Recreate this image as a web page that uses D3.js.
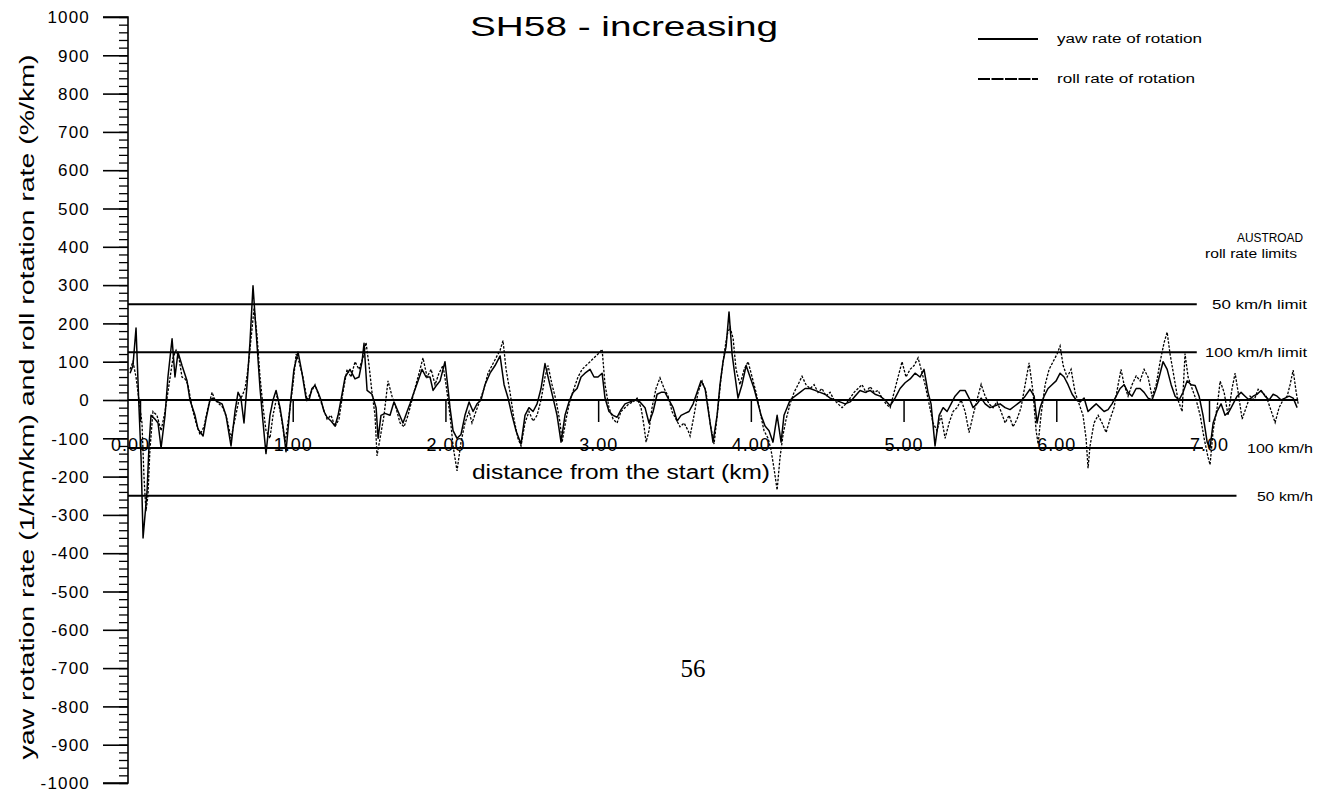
<!DOCTYPE html>
<html>
<head>
<meta charset="utf-8">
<script src="https://cdn.jsdelivr.net/npm/d3@7"></script>
<style>
  html, body { margin: 0; padding: 0; background: #fff; }
  svg { display: block; }
  text { font-family: "Liberation Sans", Arial, Helvetica, sans-serif; fill: #000; }
</style>
</head>
<body>
<svg id="chart" width="1326" height="794"></svg>
<script>
// ---- data -------------------------------------------------------------
const chartTitle = "SH58 - increasing";
const xTickValues = [0, 1, 2, 3, 4, 5, 6, 7];
const xTickLabels = ["0.00", "1.00", "2.00", "3.00", "4.00", "5.00", "6.00", "7.00"];
const yTickValues = d3.range(-1000, 1001, 100);
const seriesNames = ["yaw rate of rotation", "roll rate of rotation"];

// AUSTROAD roll rate limits (%/km) and their labels
const limitValues = [250, 125, -125, -250];
const limitLabels = ["50 km/h limit", "100 km/h limit", "100 km/h", "50 km/h"];

// yaw rotation rate (1/km/km) against distance (km)
const yawKm = [-0.065,-0.046,-0.026,-0.007,0.007,0.020,0.033,0.046,0.059,0.072,0.098,0.118,0.138,0.164,0.183,0.210,0.229,0.249,0.275,0.308,0.327,0.360,0.380,0.413,0.432,0.458,0.478,0.511,0.537,0.563,0.596,0.622,0.642,0.661,0.681,0.701,0.720,0.740,0.760,0.786,0.806,0.825,0.851,0.871,0.891,0.917,0.937,0.956,0.982,1.008,1.035,1.061,1.087,1.107,1.126,1.146,1.166,1.185,1.205,1.225,1.251,1.277,1.297,1.316,1.343,1.375,1.408,1.434,1.454,1.467,1.487,1.519,1.546,1.559,1.578,1.604,1.637,1.663,1.690,1.722,1.749,1.768,1.794,1.821,1.847,1.873,1.899,1.919,1.945,1.965,1.997,2.017,2.030,2.050,2.076,2.102,2.128,2.155,2.181,2.207,2.233,2.259,2.292,2.325,2.358,2.384,2.410,2.436,2.462,2.495,2.521,2.547,2.574,2.600,2.626,2.652,2.678,2.705,2.731,2.757,2.783,2.809,2.836,2.862,2.888,2.914,2.947,2.973,2.999,3.026,3.045,3.071,3.098,3.124,3.150,3.176,3.209,3.242,3.274,3.307,3.333,3.360,3.386,3.412,3.438,3.464,3.491,3.517,3.543,3.569,3.595,3.622,3.648,3.674,3.700,3.726,3.752,3.779,3.798,3.818,3.838,3.857,3.877,3.897,3.916,3.942,3.969,3.995,4.021,4.041,4.067,4.093,4.119,4.145,4.172,4.198,4.217,4.237,4.257,4.289,4.322,4.355,4.388,4.420,4.453,4.486,4.519,4.551,4.584,4.617,4.650,4.682,4.715,4.748,4.781,4.813,4.846,4.879,4.912,4.944,4.977,5.010,5.043,5.075,5.108,5.134,5.160,5.180,5.206,5.233,5.259,5.285,5.311,5.337,5.370,5.403,5.429,5.455,5.481,5.508,5.534,5.566,5.599,5.632,5.665,5.697,5.730,5.763,5.796,5.828,5.855,5.874,5.894,5.920,5.946,5.972,5.999,6.025,6.051,6.077,6.104,6.130,6.156,6.182,6.208,6.234,6.261,6.287,6.313,6.339,6.365,6.392,6.418,6.444,6.470,6.496,6.523,6.549,6.575,6.601,6.627,6.654,6.680,6.699,6.726,6.752,6.778,6.804,6.830,6.857,6.883,6.909,6.935,6.961,6.988,7.007,7.027,7.053,7.079,7.105,7.132,7.158,7.184,7.210,7.236,7.263,7.289,7.315,7.341,7.367,7.394,7.420,7.446,7.472,7.498,7.525,7.551,7.577];
const yawRate = [70,90,188,-16,-150,-360,-300,-240,-120,-40,-50,-60,-125,-40,60,160,60,125,90,50,0,-40,-76,-94,-50,0,5,-5,-10,-40,-120,-30,20,5,-60,40,150,298,180,30,-60,-140,-40,0,25,-20,-70,-135,-20,80,125,70,5,0,30,38,20,0,-30,-45,-55,-68,-40,0,60,80,55,60,100,148,25,15,-20,-100,-40,-35,-40,-5,-30,-60,-30,-10,20,50,80,60,60,25,40,50,100,30,-20,-80,-100,-90,-40,-5,-30,-10,0,40,70,90,115,40,5,-40,-80,-115,-40,-20,-30,-10,30,95,50,5,-40,-110,-40,-5,20,30,60,70,80,60,60,70,5,-30,-40,-45,-25,-10,-5,0,-5,-20,-60,-30,15,20,20,0,-20,-55,-40,-35,-30,-10,20,50,30,-40,-110,-40,40,100,140,230,120,60,5,40,90,60,30,0,-40,-68,-80,-110,-40,-110,-40,-20,0,10,20,30,30,25,20,15,5,0,-5,-10,-5,10,25,20,25,15,10,0,-15,5,30,45,55,70,60,80,20,-10,-120,-40,-20,-30,-10,10,25,25,5,-20,-10,5,-10,-20,-15,-10,-20,-25,-15,-5,10,28,10,-60,-20,10,30,40,50,70,60,40,15,0,-5,5,-30,-20,-10,-20,-30,-25,-10,10,30,40,20,10,30,30,20,5,0,30,70,100,80,40,10,0,20,50,40,38,10,-40,-110,-125,-60,-30,-10,-40,-30,-10,10,20,10,0,10,15,25,10,0,15,10,0,5,10,5,-20];

// roll rotation rate (%/km) against distance (km)
const rollKm = [-0.065,-0.046,-0.026,-0.007,0.013,0.026,0.039,0.052,0.065,0.085,0.111,0.138,0.164,0.190,0.216,0.236,0.255,0.275,0.295,0.314,0.341,0.367,0.393,0.419,0.445,0.472,0.491,0.517,0.544,0.570,0.596,0.622,0.648,0.668,0.688,0.707,0.727,0.747,0.766,0.786,0.806,0.825,0.851,0.871,0.897,0.923,0.950,0.976,1.002,1.022,1.041,1.067,1.094,1.120,1.146,1.172,1.198,1.225,1.251,1.277,1.303,1.329,1.356,1.382,1.408,1.434,1.460,1.480,1.500,1.519,1.539,1.552,1.572,1.598,1.624,1.650,1.676,1.703,1.729,1.755,1.781,1.807,1.834,1.853,1.880,1.906,1.932,1.958,1.984,2.004,2.030,2.050,2.076,2.102,2.128,2.155,2.174,2.200,2.227,2.253,2.279,2.305,2.331,2.358,2.377,2.397,2.423,2.449,2.475,2.495,2.521,2.547,2.574,2.600,2.626,2.652,2.672,2.698,2.724,2.751,2.764,2.790,2.816,2.842,2.868,2.895,2.921,2.947,2.973,2.999,3.026,3.045,3.071,3.098,3.124,3.150,3.176,3.202,3.229,3.255,3.281,3.301,3.314,3.333,3.353,3.379,3.405,3.432,3.458,3.484,3.510,3.536,3.563,3.589,3.602,3.628,3.654,3.681,3.707,3.733,3.759,3.785,3.805,3.825,3.844,3.864,3.884,3.903,3.929,3.956,3.982,4.008,4.034,4.060,4.086,4.113,4.132,4.152,4.172,4.191,4.211,4.231,4.257,4.283,4.309,4.335,4.361,4.388,4.414,4.440,4.466,4.492,4.519,4.545,4.571,4.597,4.623,4.650,4.676,4.702,4.728,4.754,4.781,4.807,4.833,4.859,4.885,4.912,4.938,4.964,4.990,5.016,5.043,5.069,5.095,5.115,5.141,5.167,5.193,5.219,5.246,5.272,5.298,5.324,5.350,5.377,5.403,5.429,5.455,5.481,5.508,5.534,5.560,5.586,5.612,5.638,5.665,5.691,5.717,5.743,5.769,5.796,5.822,5.848,5.868,5.881,5.900,5.927,5.953,5.979,6.005,6.025,6.045,6.071,6.097,6.123,6.149,6.175,6.195,6.208,6.221,6.247,6.274,6.300,6.326,6.352,6.378,6.405,6.424,6.444,6.470,6.496,6.523,6.549,6.575,6.601,6.627,6.654,6.680,6.706,6.726,6.745,6.771,6.797,6.824,6.843,6.863,6.889,6.916,6.942,6.968,6.994,7.007,7.027,7.053,7.073,7.099,7.125,7.151,7.171,7.191,7.217,7.243,7.269,7.296,7.322,7.348,7.374,7.400,7.433,7.459,7.485,7.512,7.531,7.551,7.571,7.584];
const rollRate = [80,100,60,0,-60,-200,-290,-250,-130,-30,-40,-80,-30,40,110,130,110,60,55,40,-20,-60,-90,-70,-20,20,0,-10,-20,-50,-100,-50,0,10,30,80,160,240,170,60,-20,-80,-100,-40,10,-40,-110,-40,40,120,100,60,0,20,40,10,-20,-50,-40,-70,-50,20,80,60,100,80,110,150,90,20,-40,-146,-100,-40,50,10,-20,-60,-70,-40,0,40,80,110,60,80,40,70,90,40,-40,-120,-185,-110,-60,-30,-60,-30,0,30,70,90,110,130,155,80,20,-50,-100,-120,-60,-30,-55,-40,0,60,90,40,0,-60,-110,-50,0,30,60,80,90,100,110,120,132,40,-20,-50,-60,-30,-20,-10,-5,5,-20,-70,-110,-80,-20,30,58,30,10,-30,-50,-70,-60,-80,-94,-40,20,49,20,-60,-115,-20,60,120,170,190,160,80,40,80,100,60,20,-30,-80,-100,-130,-180,-235,-150,-90,-50,-10,20,40,62,40,30,40,20,30,10,20,0,-10,-20,-10,5,20,30,40,20,35,20,25,5,-10,-20,20,60,100,60,80,90,110,80,40,-10,-60,-80,-40,-100,-60,-30,-20,0,-30,-85,-40,0,41,10,-10,-20,-5,-30,-60,-40,-70,-50,-20,40,97,20,-80,-115,-40,40,80,100,120,141,90,60,80,20,-10,-40,-100,-178,-120,-60,-40,-60,-85,-50,-20,40,80,40,10,40,63,50,80,60,10,40,100,150,177,120,60,0,-30,121,60,30,0,-40,-100,-150,-169,-80,-20,49,20,-40,30,70,20,-50,-20,10,0,28,20,10,-20,-59,-20,0,10,40,78,20,-10];

// ---- layout -----------------------------------------------------------
const svg = d3.select("#chart");
const x = d3.scaleLinear().domain([0, 7]).range([140, 1209]);
const y = d3.scaleLinear().domain([-1000, 1000]).range([783, 17]);
const axisX = 128;
const dataEndKm = rollKm[rollKm.length - 1];
// where each limit line stops (km), leaving room for its label
const limitLineEndKm = [6.92, 6.92, 6.96, 7.18];
const limitLabelPos = [
  { x: 1212, dy: 5, width: 95 },
  { x: 1205, dy: 5, width: 102 },
  { x: 1247, dy: 5, width: 66 },
  { x: 1257, dy: 5, width: 56 }
];

// y axis: major ticks every 100, minor every 20
const yMajor = d3.axisLeft(y).tickValues(yTickValues).tickSize(25).tickPadding(13)
  .tickFormat(d => String(d));
const yMinor = d3.axisLeft(y).tickValues(d3.range(-1000, 1001, 20)).tickSize(9).tickFormat("");

const gMinor = svg.append("g").attr("transform", `translate(${axisX},0)`).call(yMinor);
gMinor.select(".domain").remove();
gMinor.selectAll("line").attr("stroke", "#000").attr("stroke-width", 1.3);

const gY = svg.append("g").attr("transform", `translate(${axisX},0)`).call(yMajor);
gY.select(".domain").attr("stroke", "#000").attr("stroke-width", 1.6)
  .attr("d", `M-25,${y(1000)}H0V${y(-1000)}H-25`);
gY.selectAll(".tick line").attr("stroke", "#000").attr("stroke-width", 1.6);
gY.selectAll(".tick text").style("font-size", "17px").style("letter-spacing", "1.2px")
  .attr("dy", "0.34em");

// reference lines: zero line and AUSTROAD limits
svg.append("line")
  .attr("x1", axisX).attr("x2", x(dataEndKm))
  .attr("y1", y(0)).attr("y2", y(0))
  .attr("stroke", "#000").attr("stroke-width", 2);

svg.append("g").selectAll("line").data(limitValues).join("line")
  .attr("x1", axisX)
  .attr("x2", (d, i) => x(limitLineEndKm[i]))
  .attr("y1", d => y(d)).attr("y2", d => y(d))
  .attr("stroke", "#000").attr("stroke-width", 2);

// x axis ticks hang below the zero line
const gX = svg.append("g").attr("transform", `translate(0,${y(0)})`)
  .call(d3.axisBottom(x).tickValues(xTickValues).tickSize(22).tickPadding(16)
    .tickFormat((d, i) => xTickLabels[i]));
gX.select(".domain").remove();
gX.selectAll(".tick line").attr("stroke", "#000").attr("stroke-width", 1.5);
gX.selectAll(".tick text").style("font-size", "18px").style("letter-spacing", "1px")
  .attr("dx", d => (d === 0 ? -10 : 0));

// series
const line = d3.line().x(d => x(d[0])).y(d => y(d[1]));
const rollPts = rollKm.map((k, i) => [k, rollRate[i]]);
const yawPts = yawKm.map((k, i) => [k, yawRate[i]]);

svg.append("path").datum(rollPts)
  .attr("d", line).attr("fill", "none")
  .attr("stroke", "#000").attr("stroke-width", 1.3)
  .attr("stroke-dasharray", "2.5,1.5");

svg.append("path").datum(yawPts)
  .attr("d", line).attr("fill", "none")
  .attr("stroke", "#000").attr("stroke-width", 1.5)
  .attr("stroke-linejoin", "round");

// limit labels
svg.append("g").selectAll("text").data(limitLabels).join("text")
  .attr("x", (d, i) => limitLabelPos[i].x)
  .attr("y", (d, i) => y(limitValues[i]) + limitLabelPos[i].dy)
  .attr("textLength", (d, i) => limitLabelPos[i].width)
  .attr("lengthAdjust", "spacingAndGlyphs")
  .style("font-size", "12px")
  .text(d => d);

svg.append("text").attr("x", 1237).attr("y", 242).style("font-size", "12px")
  .attr("textLength", 66).attr("lengthAdjust", "spacingAndGlyphs").text("AUSTROAD");
svg.append("text").attr("x", 1205).attr("y", 258).style("font-size", "12px")
  .attr("textLength", 92).attr("lengthAdjust", "spacingAndGlyphs").text("roll rate limits");

// legend
const legend = svg.append("g");
seriesNames.forEach((name, i) => {
  const ly = 39 + i * 40;
  legend.append("line").attr("x1", 978).attr("x2", 1038).attr("y1", ly).attr("y2", ly)
    .attr("stroke", "#000").attr("stroke-width", 1.8)
    .attr("stroke-dasharray", i === 0 ? null : "12,1.5");
  legend.append("text").attr("x", 1057).attr("y", ly + 4)
    .style("font-size", "12px")
    .attr("textLength", i === 0 ? 145 : 138).attr("lengthAdjust", "spacingAndGlyphs")
    .text(name);
});

// titles
svg.append("text").attr("x", 624).attr("y", 36).attr("text-anchor", "middle")
  .style("font-size", "28px").attr("textLength", 308).attr("lengthAdjust", "spacingAndGlyphs")
  .text(chartTitle);

svg.append("text").attr("x", 621).attr("y", 479).attr("text-anchor", "middle")
  .style("font-size", "20px").attr("textLength", 298).attr("lengthAdjust", "spacingAndGlyphs")
  .text("distance from the start (km)");

svg.append("text")
  .attr("transform", "translate(34,407) rotate(-90)")
  .attr("text-anchor", "middle")
  .style("font-size", "20px").attr("textLength", 705).attr("lengthAdjust", "spacingAndGlyphs")
  .text("yaw rotation rate (1/km/km) and roll rotation rate (%/km)");

// page number
svg.append("text").attr("x", 693).attr("y", 677).attr("text-anchor", "middle")
  .style("font-family", "'Liberation Serif', 'Times New Roman', serif")
  .style("font-size", "25px").text("56");
</script>
</body>
</html>
